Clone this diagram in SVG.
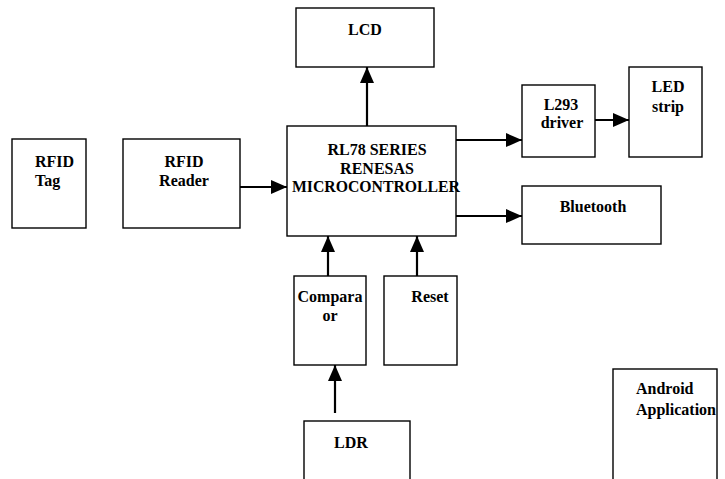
<svg xmlns="http://www.w3.org/2000/svg" width="725" height="479" viewBox="0 0 725 479">
<style>
.box{fill:#fff;stroke:#000;stroke-width:1.4}
.t{font-family:"Liberation Serif","Times New Roman",serif;font-weight:bold;font-size:16px;fill:#000}
.c{text-anchor:middle}
.conn{stroke:#000;stroke-width:2.2;fill:none}
</style>
<defs>
<marker id="ah" markerUnits="userSpaceOnUse" markerWidth="16" markerHeight="14" viewBox="0 0 16 14" refX="16" refY="7" orient="auto">
<path d="M0,0 L16,7 L0,14 Z" fill="#000"/>
</marker>
</defs>
<rect width="725" height="479" fill="#fff"/>
<g id="lcd"><rect class="box" x="296" y="8" width="138" height="59"/><text class="t c" x="365" y="35">LCD</text></g>
<g id="mcu"><rect class="box" x="287" y="126" width="169" height="110"/>
<text class="t c" x="377" y="155">RL78 SERIES</text>
<text class="t c" x="377" y="174">RENESAS</text>
<text class="t" x="292" y="192" textLength="168" lengthAdjust="spacingAndGlyphs">MICROCONTROLLER</text></g>
<g id="rfid-tag"><rect class="box" x="12" y="139" width="74" height="89"/><text class="t" x="35" y="167">RFID</text><text class="t" x="35" y="186">Tag</text></g>
<g id="rfid-reader"><rect class="box" x="123" y="139" width="117" height="89"/><text class="t c" x="184" y="167">RFID</text><text class="t c" x="184" y="186">Reader</text></g>
<g id="l293"><rect class="box" x="522" y="85" width="73" height="72"/><text class="t c" x="561" y="110">L293</text><text class="t c" x="562" y="128">driver</text></g>
<g id="led"><rect class="box" x="629" y="67" width="73" height="90"/><text class="t c" x="668" y="92">LED</text><text class="t c" x="668" y="112">strip</text></g>
<g id="bluetooth"><rect class="box" x="522" y="186" width="139" height="58"/><text class="t c" x="593" y="212">Bluetooth</text></g>
<g id="comparator"><rect class="box" x="294" y="276" width="72" height="89"/><text class="t c" x="330" y="302">Compara</text><text class="t c" x="330" y="321">or</text></g>
<g id="reset"><rect class="box" x="384" y="276" width="73" height="89"/><text class="t c" x="430" y="302">Reset</text></g>
<g id="ldr"><rect class="box" x="304" y="421" width="106" height="70"/><text class="t c" x="351" y="448">LDR</text></g>
<g id="android"><rect class="box" x="613" y="369" width="104" height="120"/><text class="t" x="636" y="394">Android</text><text class="t" x="636" y="415">Application</text></g>
<g id="connectors">
<line class="conn" x1="367" y1="126" x2="367" y2="67" marker-end="url(#ah)"/>
<line class="conn" x1="240" y1="187" x2="287" y2="187" marker-end="url(#ah)"/>
<line class="conn" x1="456" y1="140" x2="522" y2="140" marker-end="url(#ah)"/>
<line class="conn" x1="595" y1="120" x2="629" y2="120" marker-end="url(#ah)"/>
<line class="conn" x1="456" y1="216" x2="522" y2="216" marker-end="url(#ah)"/>
<line class="conn" x1="328" y1="276" x2="328" y2="236" marker-end="url(#ah)"/>
<line class="conn" x1="417" y1="276" x2="417" y2="236" marker-end="url(#ah)"/>
<line class="conn" x1="335" y1="413" x2="335" y2="365" marker-end="url(#ah)"/>
</g>
</svg>
